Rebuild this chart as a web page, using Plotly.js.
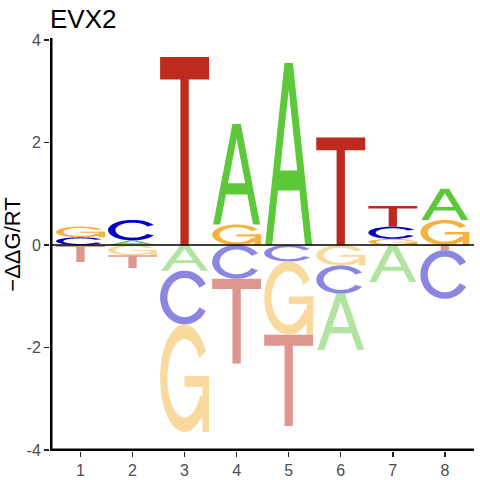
<!DOCTYPE html>
<html>
<head>
<meta charset="utf-8">
<script src="https://cdn.plot.ly/plotly-3.0.1.min.js"></script>
<style>html,body{margin:0;padding:0;background:#fff;}#chart{width:480px;height:480px;}</style>
</head>
<body>
<div id="chart"></div>
<script>
// ---- data ----
const positions = [1, 2, 3, 4, 5, 6, 7, 8];
const tickLabels = ['1', '2', '3', '4', '5', '6', '7', '8'];
const valA = [0.00, 0.09, -0.50, 1.96, 3.55, -1.10, -0.72, 0.61];
const valC = [0.15, 0.40, -1.05, -0.66, -0.32, -0.55, 0.24, -0.95];
const valG = [0.21, -0.20, -2.10, 0.40, -1.43, -0.40, 0.12, 0.49];
const valT = [-0.33, -0.25, 3.67, -1.65, -1.78, 2.10, 0.40, -0.10];
const yTickVals = [-4, -2, 0, 2, 4];
const yTickText = ['-4', '-2', '0', '2', '4'];

// ---- styles ----
const posColor = {A: '#5CC83A', C: '#0000C8', G: '#F5B23C', T: '#BE2A1E'};
const negColor = {A: '#B2E3A0', C: '#8A86E2', G: '#FAD99E', T: '#DE9690'};
const letterWidth = 0.94;
const W = 480, H = 480, M = {l: 50, r: 6, t: 38, b: 29};
const plotW = W - M.l - M.r, plotH = H - M.t - M.b;

// ---- glyph templates in a unit box ----
function ring(t0, t1, n, rxo, ryo, rxi, ryi) {
  const pts = [];
  for (let i = 0; i <= n; i++) {
    const t = (t0 + (t1 - t0) * i / n) * Math.PI / 180;
    pts.push([0.5 + rxo * Math.cos(t), 0.5 + ryo * Math.sin(t)]);
  }
  for (let i = n; i >= 0; i--) {
    const t = (t0 + (t1 - t0) * i / n) * Math.PI / 180;
    pts.push([0.5 + rxi * Math.cos(t), 0.5 + ryi * Math.sin(t)]);
  }
  return pts;
}
function rect(x0, y0, x1, y1) { return [[x0, y0], [x1, y0], [x1, y1], [x0, y1]]; }
const ax = u => 0.02 + 0.96 * u;
const glyphs = {
  T: [[[[0.415, 0], [0.585, 0], [0.585, 0.88], [1, 0.88], [1, 1], [0, 1], [0, 0.88], [0.415, 0.88]]]],
  A: [[
    [[ax(0), 0], [ax(0.41), 1], [ax(0.59), 1], [ax(1), 0], [ax(0.85), 0], [ax(0.727), 0.30], [ax(0.273), 0.30], [ax(0.15), 0]],
    [[ax(0.318), 0.41], [ax(0.682), 0.41], [ax(0.5), 0.854]]
  ]],
  C: [[ring(30, 330, 60, 0.5, 0.5, 0.35, 0.365)]],
  G: [
    [ring(30, 335, 60, 0.5, 0.5, 0.35, 0.365)],
    [rect(0.5, 0.42, 1.0, 0.52)],
    [rect(0.865, 0.0, 1.0, 0.52)]
  ]
};

function piecePath(piece, x0, y0, w, h) {
  return piece.map(r => r.map((p, i) =>
    (i ? 'L' : 'M') + (x0 + p[0] * w).toFixed(4) + ',' + (y0 + p[1] * h).toFixed(4)
  ).join(' ') + ' Z').join(' ');
}

const values = {A: valA, C: valC, G: valG, T: valT};
const letters = ['A', 'C', 'G', 'T'];
const shapes = [];
positions.forEach((pos, i) => {
  const items = letters.map(L => ({L, v: values[L][i]})).filter(d => d.v !== 0);
  const pos_ = items.filter(d => d.v > 0).sort((a, b) => a.v - b.v);
  const neg_ = items.filter(d => d.v < 0).sort((a, b) => b.v - a.v);
  let base = 0;
  pos_.forEach(d => {
    glyphs[d.L].forEach(piece => shapes.push({
      type: 'path', xref: 'x', yref: 'y', layer: 'above',
      path: piecePath(piece, pos - letterWidth / 2, base, letterWidth, d.v),
      fillcolor: posColor[d.L], line: {width: 0}
    }));
    base += d.v;
  });
  base = 0;
  neg_.forEach(d => {
    const top = base, bottom = base + d.v;
    glyphs[d.L].forEach(piece => shapes.push({
      type: 'path', xref: 'x', yref: 'y', layer: 'above',
      path: piecePath(piece, pos - letterWidth / 2, bottom, letterWidth, top - bottom),
      fillcolor: negColor[d.L], line: {width: 0}
    }));
    base = bottom;
  });
});
// zero line
shapes.push({type: 'line', xref: 'paper', x0: 0, x1: 1, yref: 'y', y0: 0, y1: 0,
  line: {color: '#000', width: 1.5}, layer: 'above'});
// axis lines: solid black bars placed just inside the plot edge
const bx = 2.5 / plotW, by = 2.5 / plotH;
shapes.push({type: 'rect', xref: 'paper', yref: 'paper', x0: 0, x1: bx, y0: 0, y1: 1,
  fillcolor: '#000000', opacity: 1, line: {width: 0}, layer: 'above'});
shapes.push({type: 'rect', xref: 'paper', yref: 'paper', x0: 0, x1: 1, y0: 0, y1: by,
  fillcolor: '#000000', opacity: 1, line: {width: 0}, layer: 'above'});

const font = 'Liberation Sans, Arial, sans-serif';
const layout = {
  width: W, height: H,
  margin: M,
  paper_bgcolor: '#fff', plot_bgcolor: '#fff',
  showlegend: false,
  title: {text: 'EVX2', font: {family: font, size: 26, color: '#000'},
    xref: 'paper', x: 0, xanchor: 'left', yref: 'container', y: 1 - 19 / 480, yanchor: 'middle'},
  xaxis: {range: [0.415, 8.56], tickvals: positions, ticktext: tickLabels,
    showline: false, ticks: 'outside', ticklen: 5,
    tickcolor: '#222', tickwidth: 1.5, showgrid: false, zeroline: false,
    tickfont: {family: font, size: 16, color: '#4D4D4D'}},
  yaxis: {range: [-4.02, 4.04], tickvals: yTickVals, ticktext: yTickText,
    showline: false, ticks: 'outside', ticklen: 5,
    tickcolor: '#222', tickwidth: 1.5, showgrid: false, zeroline: false,
    tickfont: {family: font, size: 16, color: '#4D4D4D'},
    title: {text: '\u2212\u0394\u0394G/RT', font: {family: font, size: 22, color: '#000'}, standoff: 1}},
  shapes: shapes
};
Plotly.newPlot('chart', [{type: 'scatter', x: [], y: [], mode: 'markers', hoverinfo: 'skip'}], layout,
  {staticPlot: true, displayModeBar: false});
</script>
</body>
</html>
